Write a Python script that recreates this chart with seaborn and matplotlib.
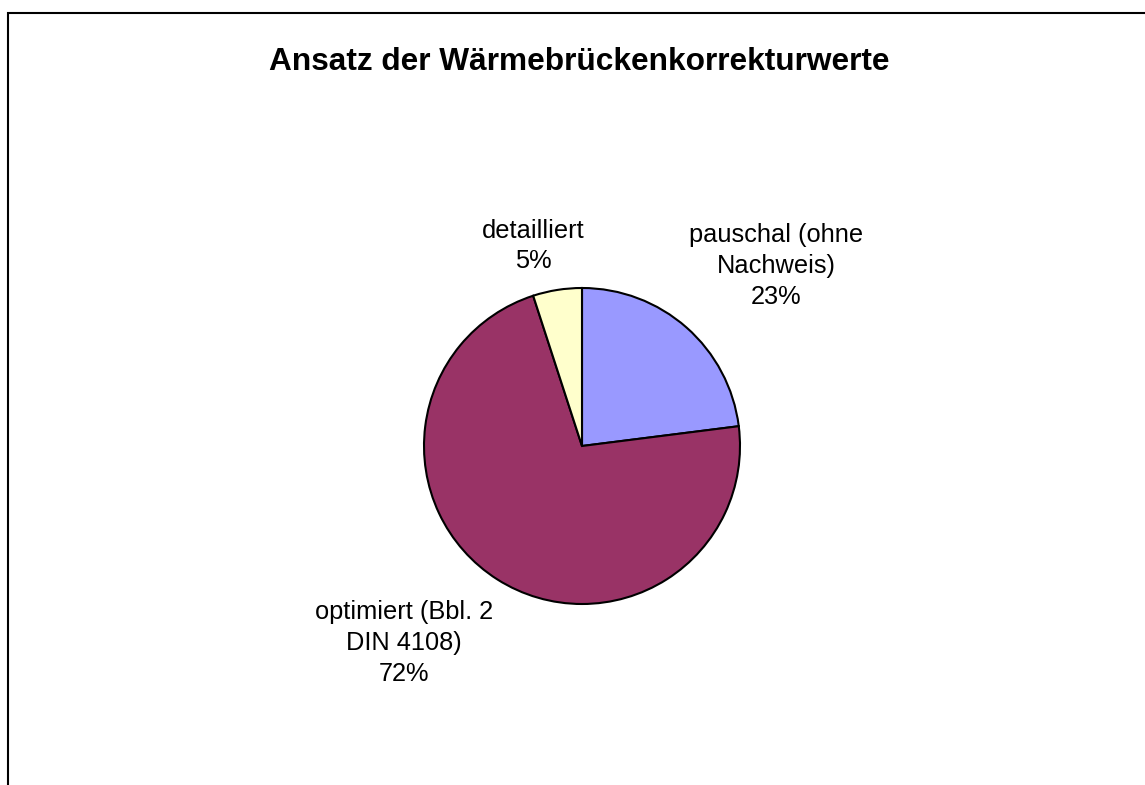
import matplotlib.pyplot as plt
import seaborn as sns
from matplotlib.patches import Rectangle

# data
categories = ["pauschal (ohne\nNachweis)", "optimiert (Bbl. 2\nDIN 4108)", "detailliert"]
shares = [23, 72, 5]
colors = ["#9999FF", "#993366", "#FFFFCC"]
title = "Ansatz der Wärmebrückenkorrekturwerte"

sns.set_theme(style="white")
plt.rcParams["font.family"] = ["Liberation Sans", "DejaVu Sans"]

W, H = 1145, 785
fig = plt.figure(figsize=(W / 100, H / 100), dpi=100)
ax = fig.add_axes([0, 0, 1, 1])

# pie centre and radius in pixels, axes limits scaled so 1 unit = radius
cx, cy, r = 582, 446, 158
ax.pie(
    shares,
    colors=colors,
    startangle=90,
    counterclock=False,
    radius=1,
    wedgeprops=dict(edgecolor="black", linewidth=1.5),
)
ax.set_xlim(-cx / r, (W - cx) / r)
ax.set_ylim(-(H - cy) / r, cy / r)
ax.set_aspect("equal")
ax.axis("off")

# label block centres (pixels)
label_pos = [(776, 266), (404, 643), (533, 246)]
for name, val, (px, py) in zip(categories, shares, label_pos):
    ax.text((px - cx) / r, (cy - py) / r, f"{name}\n{val}%",
            ha="center", va="center", fontsize=18.3, linespacing=1.36,
            color="black")

fig.text(579 / W, 1 - 70 / H, title, ha="center", va="baseline",
         fontsize=22.8, fontweight="bold", color="black")

# outer frame (only top and left edges fall inside the image)
fig.patches.append(Rectangle((8 / W, -0.1), 1.2, 1 - 13 / H + 0.1,
                             transform=fig.transFigure, fill=False,
                             edgecolor="black", linewidth=1.5))

fig.savefig("out.png", dpi=100, facecolor="white")
